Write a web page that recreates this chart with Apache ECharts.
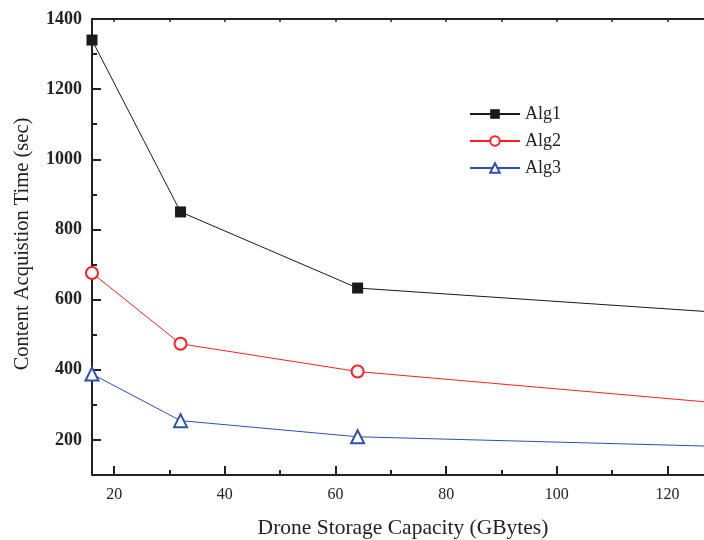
<!DOCTYPE html>
<html>
<head>
<meta charset="utf-8">
<script src="https://cdn.jsdelivr.net/npm/echarts@6/dist/echarts.min.js"></script>
<style>
  html, body { margin: 0; padding: 0; background: #fff; }
  #chart { width: 704px; height: 540px; }
</style>
</head>
<body>
<div id="chart"></div>
<script>
  // data
  const capacity = [16, 32, 64, 128]
  const alg1 = [1340, 850, 633, 565]
  const alg2 = [676, 474, 395, 307]
  const alg3 = [388, 255, 209, 182]
  const xMajor = [20, 40, 60, 80, 100, 120]
  const xMinor = [30, 50, 70, 90, 110]
  const xTop = [20, 30, 40, 50, 60, 70, 80, 90, 100, 110, 120]
  const yMajor = [200, 400, 600, 800, 1000, 1200, 1400]
  const yMinor = [300, 500, 700, 900, 1100, 1300]

  const font = 'Liberation Serif'
  const xMin = 16
  const xMax = 126.6
  const yMin = 100
  const yMax = 1400

  const pairs = arr => capacity.map((c, i) => [c, arr[i]])

  const chart = echarts.init(document.getElementById('chart'))
  chart.setOption({
    animation: false,
    backgroundColor: '#fff',
    grid: { left: 92, right: 0, top: 19, bottom: 65, outerBoundsMode: 'none', containLabel: false },
    legend: {
      left: 464,
      top: 100,
      orient: 'vertical',
      itemWidth: 50,
      itemHeight: 12,
      itemGap: 9,
      textStyle: { fontFamily: font, fontSize: 18, color: '#222' },
      data: ['Alg1', 'Alg2', 'Alg3']
    },
    xAxis: [
      {
        type: 'value', min: xMin, max: xMax, position: 'bottom',
        name: 'Drone Storage Capacity (GBytes)', nameLocation: 'middle', nameGap: 42,
        nameTextStyle: { fontFamily: font, fontSize: 21.5, color: '#222', padding: [0, 0, 0, 10] },
        axisLine: { show: true, lineStyle: { color: '#222', width: 2 } },
        axisTick: { show: true, inside: true, length: 9, customValues: xMajor, lineStyle: { color: '#222', width: 2 } },
        axisLabel: { customValues: xMajor, fontFamily: font, fontSize: 16, color: '#222', margin: 12 },
        splitLine: { show: false }
      },
      {
        type: 'value', min: xMin, max: xMax, position: 'bottom',
        axisLine: { show: false },
        axisTick: { show: true, inside: true, length: 5, customValues: xMinor, lineStyle: { color: '#222', width: 2 } },
        axisLabel: { show: false },
        splitLine: { show: false }
      },
      {
        type: 'value', min: xMin, max: xMax, position: 'top',
        axisLine: { show: true, lineStyle: { color: '#222', width: 2 } },
        axisTick: { show: true, inside: true, length: 3, customValues: xTop, lineStyle: { color: '#222', width: 1.5 } },
        axisLabel: { show: false },
        splitLine: { show: false }
      }
    ],
    yAxis: [
      {
        type: 'value', min: yMin, max: yMax, position: 'left',
        name: 'Content Acquistion Time (sec)', nameLocation: 'middle', nameGap: 59,
        nameTextStyle: { fontFamily: font, fontSize: 20.5, color: '#222', padding: [0, 0, 0, 6] },
        axisLine: { show: true, lineStyle: { color: '#222', width: 2 } },
        axisTick: { show: true, inside: true, length: 9, customValues: yMajor, lineStyle: { color: '#222', width: 2 } },
        axisLabel: {
          customValues: yMajor, fontFamily: font, fontSize: 18, fontWeight: 'bold', color: '#222', margin: 10,
          formatter: v => String(v)
        },
        splitLine: { show: false }
      },
      {
        type: 'value', min: yMin, max: yMax, position: 'left',
        axisLine: { show: false },
        axisTick: { show: true, inside: true, length: 5, customValues: yMinor, lineStyle: { color: '#222', width: 2 } },
        axisLabel: { show: false },
        splitLine: { show: false }
      }
    ],
    series: [
      {
        name: 'Alg1', type: 'line', data: pairs(alg1),
        symbol: 'rect', symbolSize: 11,
        itemStyle: { color: '#1a1a1a' },
        lineStyle: { color: '#1a1a1a', width: 1 }
      },
      {
        name: 'Alg2', type: 'line', data: pairs(alg2),
        symbol: 'emptyCircle', symbolSize: 12,
        itemStyle: { color: '#ff2020', borderWidth: 1.2 },
        lineStyle: { color: '#ff2020', width: 1 }
      },
      {
        name: 'Alg3', type: 'line', data: pairs(alg3),
        symbol: 'emptyTriangle', symbolSize: 13,
        itemStyle: { color: '#3050b0', borderWidth: 1.2 },
        lineStyle: { color: '#3050b0', width: 1 }
      }
    ]
  })
</script>
</body>
</html>
